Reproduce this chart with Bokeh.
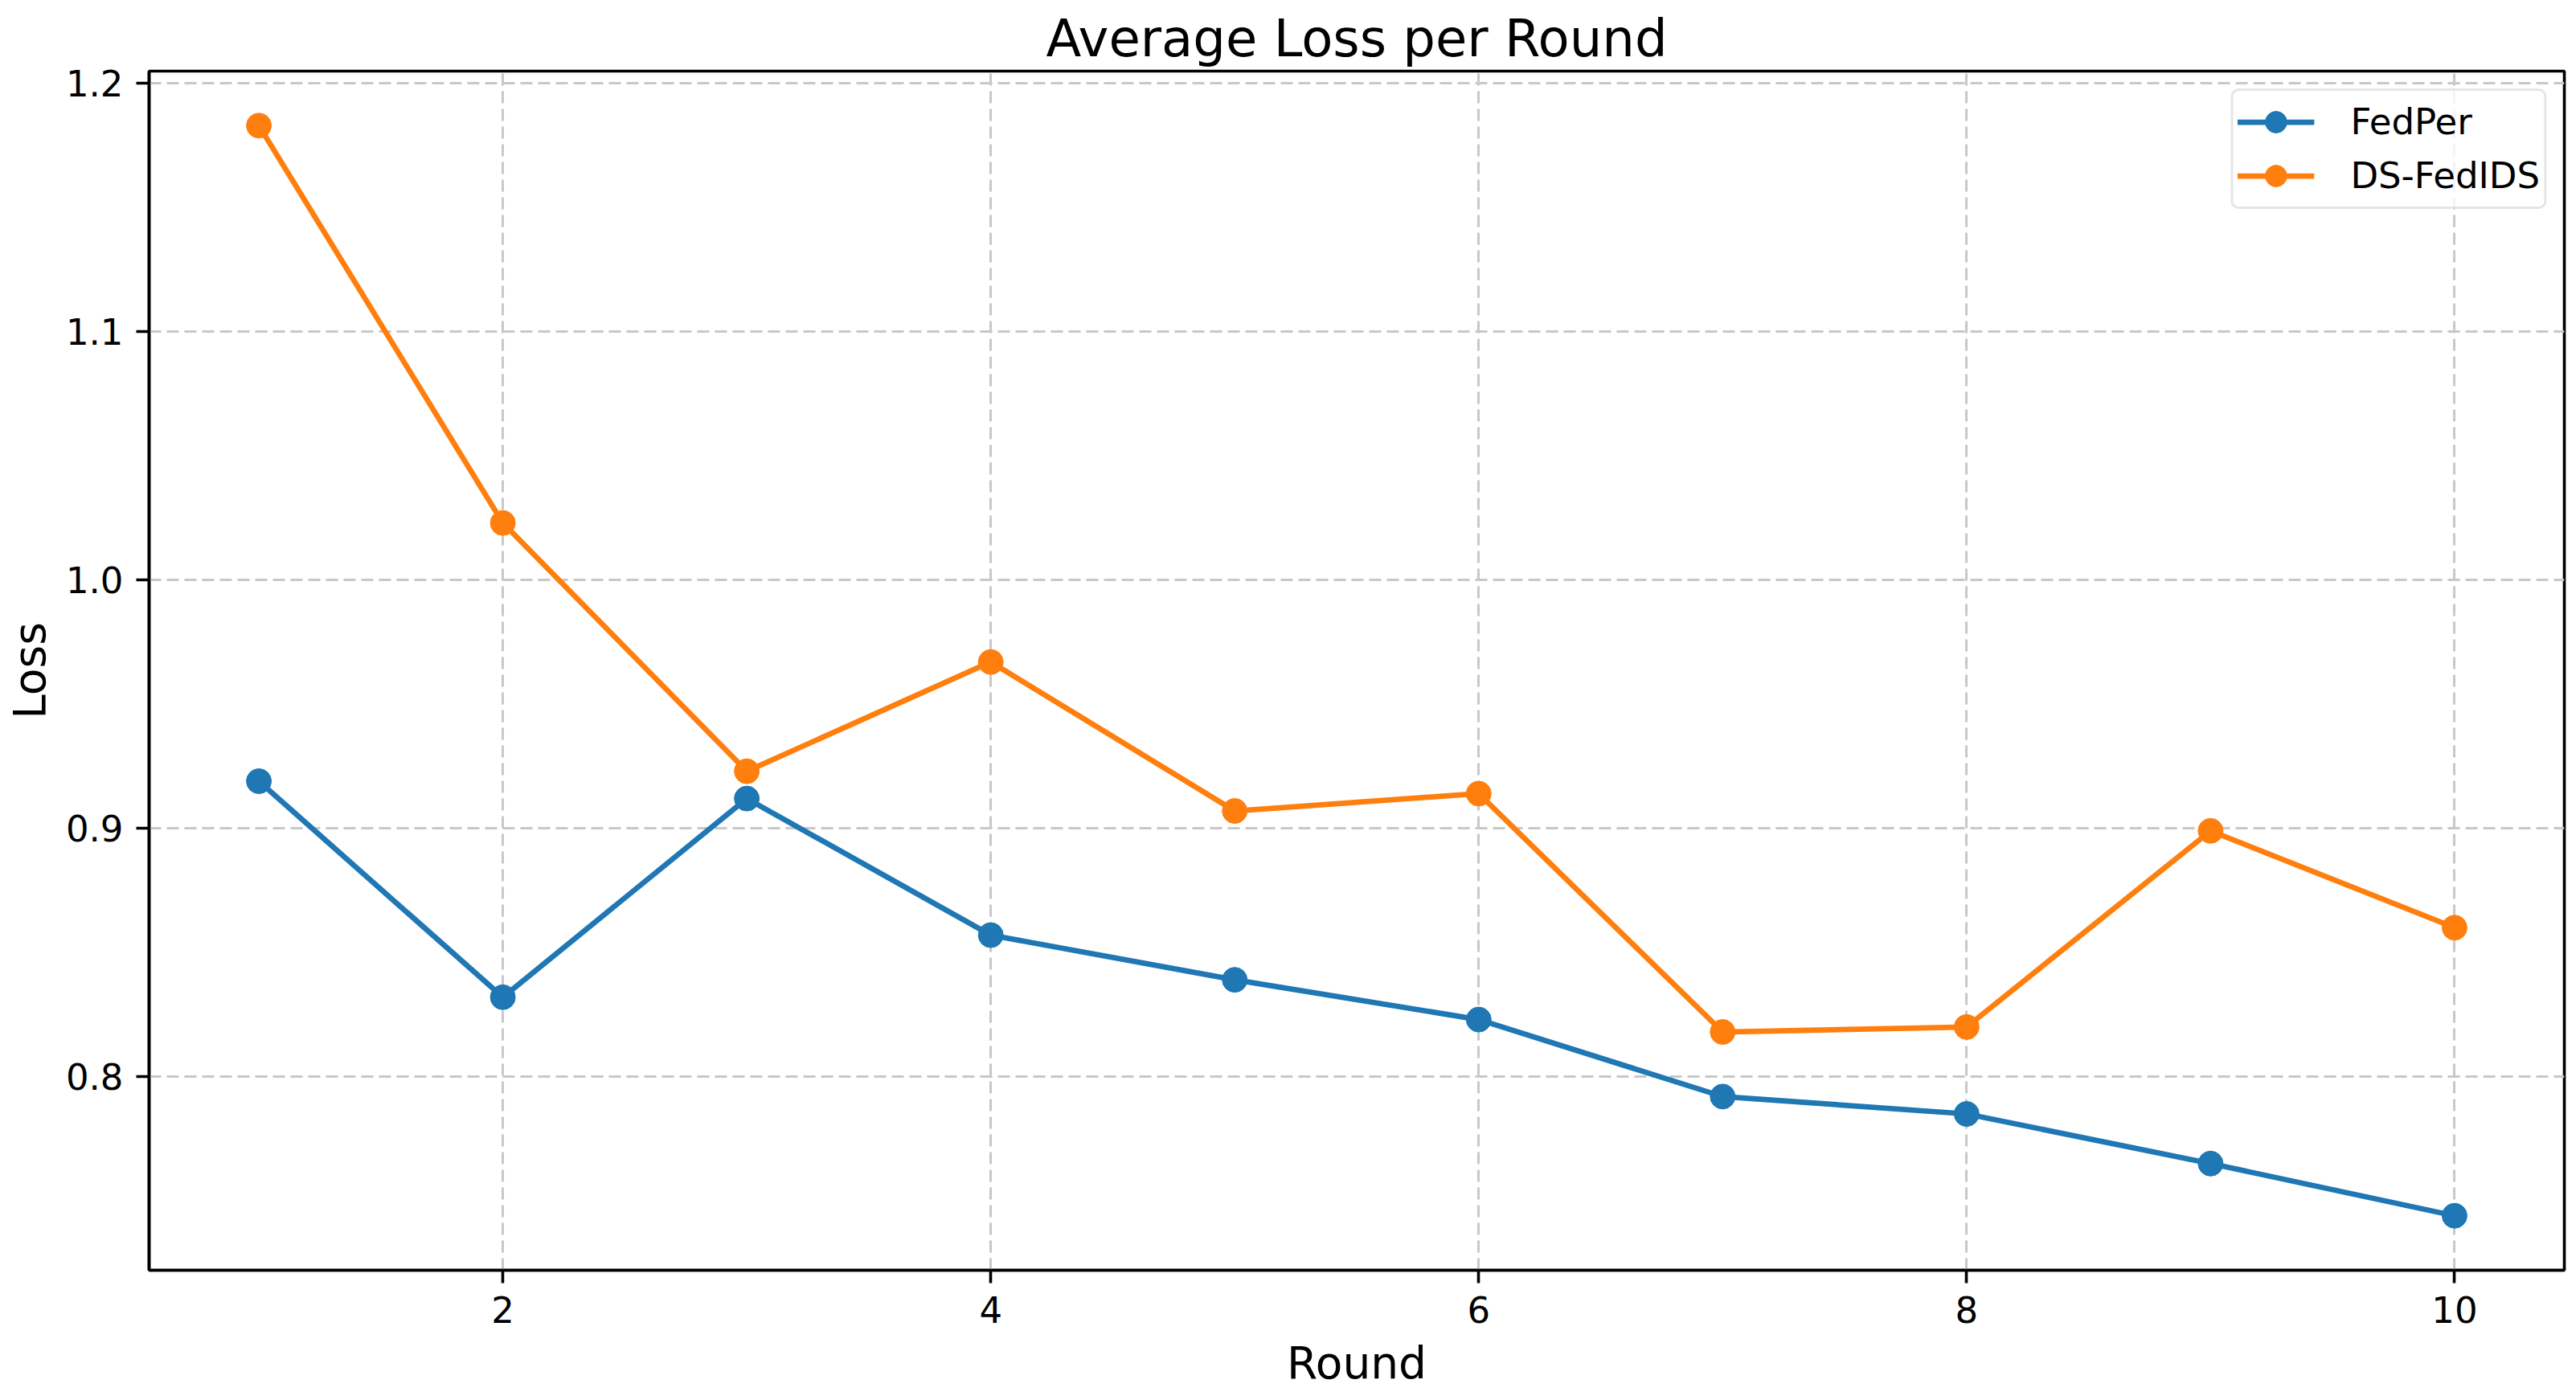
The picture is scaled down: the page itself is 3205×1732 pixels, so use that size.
from bokeh.plotting import figure
from bokeh.models import Range1d, FixedTicker, PrintfTickFormatter, Legend, LegendItem
from bokeh.embed import file_html
from bokeh.resources import INLINE

rounds = [1, 2, 3, 4, 5, 6, 7, 8, 9, 10]
fedper = [0.919, 0.832, 0.912, 0.857, 0.839, 0.823, 0.792, 0.785, 0.765, 0.744]
ds_fedids = [1.183, 1.023, 0.923, 0.967, 0.907, 0.914, 0.818, 0.820, 0.899, 0.860]
x_ticks = [2, 4, 6, 8, 10]
y_ticks = [0.8, 0.9, 1.0, 1.1, 1.2]

FONT = "DejaVu Sans"
BLUE = "#1f77b4"
ORANGE = "#ff7f0e"

ymin = min(fedper + ds_fedids)
ymax = max(fedper + ds_fedids)
ypad = (ymax - ymin) * 0.05
xpad = (max(rounds) - min(rounds)) * 0.05

p = figure(width=3205, height=1732, output_backend="svg", toolbar_location=None,
           x_range=Range1d(min(rounds) - xpad, max(rounds) + xpad),
           y_range=Range1d(ymin - ypad, ymax + ypad),
           min_border_left=185, min_border_right=15, min_border_top=88, min_border_bottom=152)

p.title.text = "Average Loss per Round"
p.title.text_font = FONT
p.title.text_font_size = "64px"
p.title.text_font_style = "normal"
p.title.align = "center"
p.title.vertical_align = "top"
p.title.text_color = "black"
p.title.standoff = 4
if "text_line_height" in p.title.properties():
    p.title.text_line_height = 0.8

p.outline_line_color = "black"
p.outline_line_width = 3.6
p.outline_line_alpha = 1.0

for ax in (p.xaxis[0], p.yaxis[0]):
    ax.axis_line_width = 3.6
    ax.axis_line_color = "black"
    ax.major_tick_line_width = 3.6
    ax.major_tick_line_color = "black"
    ax.major_tick_out = 16
    ax.major_tick_in = 0
    ax.minor_tick_out = 0
    ax.minor_tick_in = 0
    ax.major_label_text_font = FONT
    ax.major_label_text_font_size = "45px"
    ax.major_label_text_color = "black"
    ax.major_label_standoff = 16
    ax.axis_label_text_font = FONT
    ax.axis_label_text_font_size = "55px"
    ax.axis_label_text_font_style = "normal"
    ax.axis_label_text_color = "black"

p.xaxis.axis_label = "Round"
p.yaxis.axis_label = "Loss"
p.xaxis.axis_label_standoff = 15
p.yaxis.axis_label_standoff = 10
p.xaxis.ticker = FixedTicker(ticks=x_ticks)
p.yaxis.ticker = FixedTicker(ticks=y_ticks)
p.xaxis.formatter = PrintfTickFormatter(format="%d")
p.yaxis.formatter = PrintfTickFormatter(format="%.1f")

for g in (p.xgrid[0], p.ygrid[0]):
    g.grid_line_color = "#c8c8c8"
    g.grid_line_width = 3
    g.grid_line_dash = "15 7"

r1 = p.line(rounds, fedper, line_color=BLUE, line_width=6.75)
s1 = p.scatter(rounds, fedper, size=31, fill_color=BLUE, line_color=BLUE)
r2 = p.line(rounds, ds_fedids, line_color=ORANGE, line_width=6.75)
s2 = p.scatter(rounds, ds_fedids, size=31, fill_color=ORANGE, line_color=ORANGE)

legend = Legend(items=[LegendItem(label="FedPer", renderers=[r1, s1]),
                       LegendItem(label="DS-FedIDS", renderers=[r2, s2])],
                location="top_right")
legend.label_text_font = FONT
legend.label_text_font_size = "45px"
legend.label_text_color = "black"
legend.glyph_width = 96
legend.glyph_height = 67
legend.label_height = 67
legend.spacing = 0
legend.padding = 5
legend.margin = 22
legend.label_standoff = 45
legend.border_line_color = "#cccccc"
legend.border_line_width = 3
legend.background_fill_alpha = 0.8
if "border_radius" in legend.properties():
    legend.border_radius = 10
p.add_layout(legend)

open("out.html", "w").write(file_html(p, INLINE))
